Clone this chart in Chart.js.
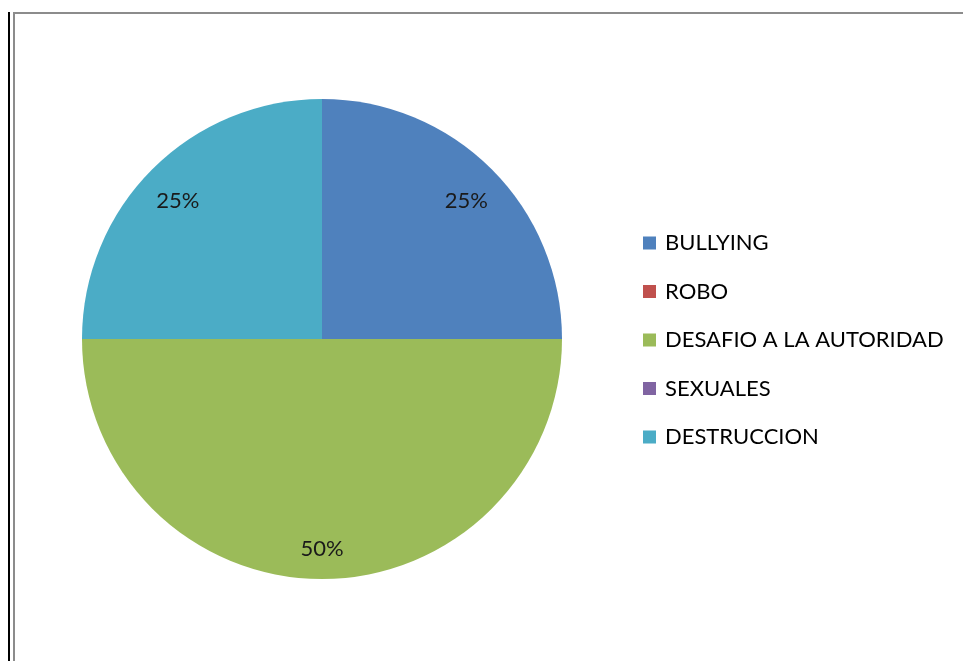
<!DOCTYPE html>
<html>
<head>
<meta charset="utf-8">
<script src="https://cdn.jsdelivr.net/npm/chart.js@4/dist/chart.umd.min.js"></script>
<style>
  html, body { margin: 0; padding: 0; background: #fff; }
  #wrap { position: relative; width: 965px; height: 661px; }
  canvas { display: block; }
</style>
</head>
<body>
<div id="wrap"><canvas id="c" width="965" height="661"></canvas></div>
<script>
const categories = ['BULLYING', 'ROBO', 'DESAFIO A LA AUTORIDAD', 'SEXUALES', 'DESTRUCCION'];
const percentValues = [25, 0, 50, 0, 25];
const sliceColors = ['#4F81BD', '#C0504D', '#9BBB59', '#8064A2', '#4BACC6'];

const FONT = '22px Lato, "Liberation Sans", sans-serif';

// Page frame: dark rule on the left, grey border around the chart
const framePlugin = {
  id: 'frame',
  beforeDraw(chart) {
    const ctx = chart.ctx;
    ctx.save();
    ctx.fillStyle = '#000';
    ctx.fillRect(8, 12, 2, 661 - 12);
    ctx.fillStyle = '#8c8c8c';
    ctx.fillRect(13, 12, 950, 2);
    ctx.fillRect(13, 12, 2, 661 - 12);
    ctx.restore();
  }
};

// Percentage labels inside each slice
const sliceLabels = {
  id: 'sliceLabels',
  afterDatasetsDraw(chart) {
    const ctx = chart.ctx;
    const meta = chart.getDatasetMeta(0);
    const data = chart.data.datasets[0].data;
    const total = data.reduce((a, b) => a + b, 0);
    ctx.save();
    ctx.font = FONT;
    ctx.fillStyle = '#1a1a1a';
    ctx.textAlign = 'center';
    ctx.textBaseline = 'middle';
    meta.data.forEach((arc, i) => {
      if (!data[i]) return;
      const p = arc.getProps(['x', 'y', 'startAngle', 'endAngle', 'outerRadius'], true);
      const mid = (p.startAngle + p.endAngle) / 2;
      const r = p.outerRadius * 0.85;
      const x = p.x + Math.cos(mid) * r;
      const y = p.y + Math.sin(mid) * r + 6;
      ctx.fillText(Math.round(data[i] / total * 100) + '%', x, y);
    });
    ctx.restore();
  }
};

// Legend listing every category, including empty ones
const sideLegend = {
  id: 'sideLegend',
  afterDraw(chart) {
    const ctx = chart.ctx;
    const labels = chart.data.labels;
    const colors = chart.data.datasets[0].backgroundColor;
    const x0 = 643, y0 = 243, step = 48.5, box = 13;
    ctx.save();
    ctx.font = FONT;
    ctx.textBaseline = 'middle';
    ctx.textAlign = 'left';
    labels.forEach((lab, i) => {
      const y = y0 + i * step;
      ctx.fillStyle = colors[i];
      ctx.fillRect(x0, y - box / 2, box, box);
      ctx.fillStyle = '#000';
      ctx.fillText(lab, x0 + 22, y);
    });
    ctx.restore();
  }
};

new Chart(document.getElementById('c'), {
  type: 'pie',
  data: {
    labels: categories,
    datasets: [{
      data: percentValues,
      backgroundColor: sliceColors,
      borderWidth: 0
    }]
  },
  options: {
    responsive: false,
    animation: false,
    layout: { padding: { top: 99, bottom: 82, left: 82, right: 403 } },
    plugins: {
      legend: { display: false },
      tooltip: { enabled: false }
    }
  },
  plugins: [framePlugin, sliceLabels, sideLegend]
});
</script>
</body>
</html>
